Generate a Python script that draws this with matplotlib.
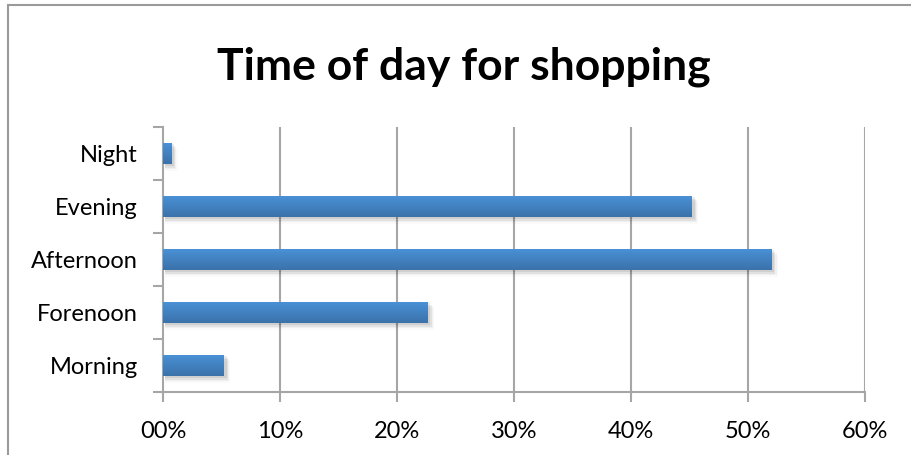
import numpy as np
import matplotlib
matplotlib.use("Agg")
import matplotlib.pyplot as plt
from matplotlib.patches import Rectangle
from matplotlib.colors import LinearSegmentedColormap
from matplotlib.ticker import FixedLocator

categories = ["Morning", "Forenoon", "Afternoon", "Evening", "Night"]
shares = [5.2, 22.6, 52.0, 45.2, 0.7]
tick_values = [0, 10, 20, 30, 40, 50, 60]
tick_labels = ["00%", "10%", "20%", "30%", "40%", "50%", "60%"]

plt.rcParams["font.family"] = ["Lato", "DejaVu Sans"]

W, H = 911, 455
fig = plt.figure(figsize=(W / 100, H / 100), dpi=100)

# chart frame
fig.patches.append(Rectangle((8 / W, -0.1), 1.2, (H - 5) / H + 0.1,
                             transform=fig.transFigure, fill=False,
                             edgecolor="#9a9a9a", linewidth=1.5))

ax = fig.add_axes([163 / W, 1 - 392 / H, (865 - 163) / W, (392 - 127) / H])
ax.set_xlim(0, 60)
ax.set_ylim(-0.5, len(categories) - 0.5)

grid_c = "#a6a6a6"
for v in tick_values[1:]:
    ax.axvline(v, color=grid_c, linewidth=1.5, zorder=1)

for s in ["top", "right"]:
    ax.spines[s].set_visible(False)
for s in ["left", "bottom"]:
    ax.spines[s].set_color(grid_c)
    ax.spines[s].set_linewidth(1.5)

ypos = np.arange(len(categories))
bars = ax.barh(ypos, shares, height=0.41, color="#4384c8", zorder=3)

cmap = LinearSegmentedColormap.from_list("bar", ["#3b72aa", "#4a92d8"])
grad = np.linspace(0, 1, 64).reshape(-1, 1)
for b in bars:
    x0, y0 = b.get_x(), b.get_y()
    w, h = b.get_width(), b.get_height()
    # soft shadow below the bar
    for i, a in enumerate([0.08, 0.06, 0.04, 0.02]):
        off = 0.03 + i * 0.03
        ax.add_patch(Rectangle((x0 + 0.15, y0 - off), w + 0.1 * (i + 1), h,
                               facecolor="#000000", alpha=a, linewidth=0, zorder=2))
    im = ax.imshow(grad, cmap=cmap, aspect="auto", extent=(x0, x0 + w, y0, y0 + h),
                   origin="lower", zorder=4, interpolation="bilinear")
    im.set_clip_path(b)
    b.set_facecolor("none")

ax.set_xlim(0, 60)
ax.set_ylim(-0.5, len(categories) - 0.5)

ax.xaxis.set_major_locator(FixedLocator(tick_values))
ax.set_xticklabels(tick_labels)
ax.set_yticks(ypos)
ax.set_yticklabels(categories)
ax.yaxis.set_minor_locator(FixedLocator(np.arange(-0.5, len(categories), 1.0)))
ax.tick_params(axis="y", which="major", length=0, pad=18, labelsize=17, labelcolor="#000000")
ax.tick_params(axis="y", which="minor", length=7, width=1.5, color=grid_c, direction="out")
ax.tick_params(axis="x", which="major", length=7, width=1.5, color=grid_c, pad=14,
               labelsize=17, labelcolor="#000000")

fig.text(464 / W, 1 - 67 / H, "Time of day for shopping", ha="center", va="center",
         fontsize=32, fontweight="bold", color="#000000")

fig.savefig("out.png", dpi=100)
